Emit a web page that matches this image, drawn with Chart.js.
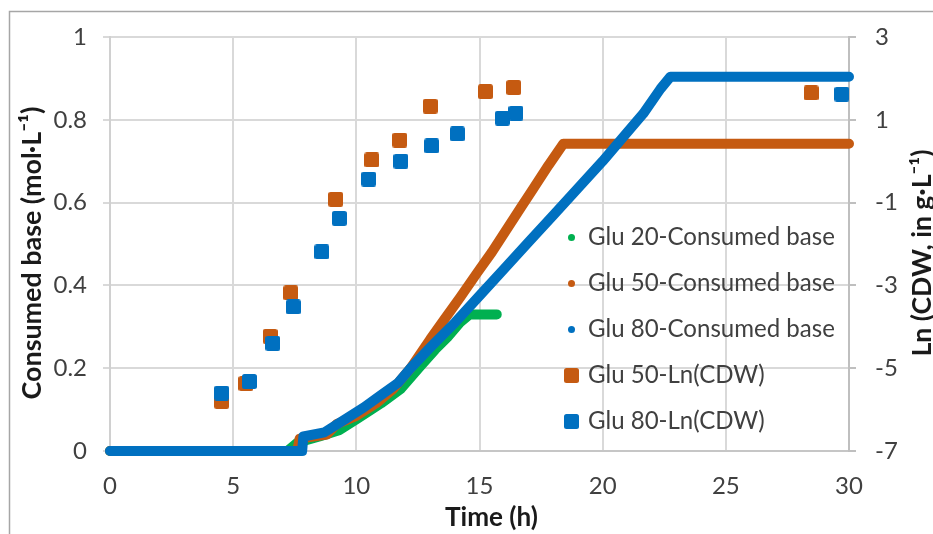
<!DOCTYPE html>
<html><head><meta charset="utf-8">
<script src="https://cdn.jsdelivr.net/npm/chart.js@4"></script>
<style>html,body{margin:0;padding:0;background:#fff;} canvas{display:block;}</style>
</head><body>
<canvas id="c" width="933" height="534"></canvas>
<script>
// ---- data ----
const xTickLabels = ['0','5','10','15','20','25','30'];
const leftTickLabels = ['0','0.2','0.4','0.6','0.8','1'];
const rightTickLabels = ['-7','-5','-3','-1','1','3'];
const seriesNames = ['Glu 20-Consumed base','Glu 50-Consumed base','Glu 80-Consumed base','Glu 50-Ln(CDW)','Glu 80-Ln(CDW)'];
const xTitle = 'Time (h)';
const leftTitle = 'Consumed base (mol·L⁻¹)';
const rightTitle = 'Ln (CDW, in g·L⁻¹)';

const glu20Time = [0, 7.2, 7.6, 8.5, 9.3, 10.1, 11.0, 11.8, 12.6, 13.2, 13.7, 14.2, 14.6, 15.7];
const glu20Base = [0, 0, 0.02, 0.035, 0.05, 0.08, 0.115, 0.15, 0.205, 0.245, 0.275, 0.31, 0.33, 0.33];

const glu50Time = [0, 7.6, 7.7, 8.8, 9.2, 10.0, 10.8, 11.5, 12.2, 13.0, 13.6, 14.2, 14.9, 15.5, 16.1, 16.7, 17.2, 17.8, 18.4, 30];
const glu50Base = [0, 0, 0.03, 0.04, 0.065, 0.085, 0.115, 0.15, 0.2, 0.27, 0.32, 0.37, 0.43, 0.48, 0.535, 0.59, 0.635, 0.69, 0.742, 0.742];

const glu80Time = [0, 7.8, 7.85, 8.7, 9.5, 10.3, 11.0, 11.7, 12.2, 13.0, 14.0, 15.0, 16.0, 17.0, 18.0, 19.0, 20.0, 21.0, 21.65, 22.35, 22.75, 30];
const glu80Base = [0, 0, 0.035, 0.045, 0.075, 0.105, 0.135, 0.165, 0.2, 0.25, 0.31, 0.375, 0.44, 0.505, 0.57, 0.635, 0.70, 0.77, 0.815, 0.875, 0.904, 0.904];

const glu50CdwTime = [4.53, 5.52, 6.50, 7.34, 9.16, 10.63, 11.76, 13.00, 15.24, 16.39, 28.46];
const glu50LnCdw   = [-5.80, -5.37, -4.23, -3.18, -0.92, 0.03, 0.51, 1.33, 1.68, 1.78, 1.65];

const glu80CdwTime = [4.53, 5.66, 6.61, 7.44, 8.60, 9.31, 10.50, 11.81, 13.06, 14.10, 15.93, 16.48, 29.71];
const glu80LnCdw   = [-5.60, -5.32, -4.40, -3.52, -2.19, -1.38, -0.43, 0.00, 0.37, 0.66, 1.04, 1.16, 1.62];

// ---- styling ----
const GREEN = '#00b050', ORANGE = '#c55a11', BLUE = '#0070c0';
const FONT = 'Lato';
const TEXT = '#404040', TITLE = '#1a1a1a';

const mctx = document.createElement('canvas').getContext('2d');
function fitSize(text, weight, target){
  mctx.font = weight + ' 100px ' + FONT;
  return 100 * target / mctx.measureText(text).width;
}
const legendSize = fitSize(seriesNames[0], 'normal', 247);
const leftTitleSize = fitSize(leftTitle, 'bold', 293);
const rightTitleSize = fitSize(rightTitle, 'bold', 207);
const xTitleSize = fitSize(xTitle, 'bold', 93);
const tickSize = 24;

const legendPad = 46 - legendSize;
const legendBoxW = Math.max(2, 33 - legendSize);
const legendLeft = 571.5 - legendPad - legendBoxW / 2;
const legendTop = 237.5 - legendPad - legendSize / 2;

function pts(ts, vs){ return ts.map((t,i)=>({x:t, y:vs[i]})); }
function makeSquare(color, s){
  const c = document.createElement('canvas'); c.width = s; c.height = s;
  const g = c.getContext('2d'); g.fillStyle = color; g.beginPath();
  if (g.roundRect) g.roundRect(0,0,s,s,2.5); else g.rect(0,0,s,s);
  g.fill(); return c;
}
function makeDot(color, d){
  const c = document.createElement('canvas'); c.width = d; c.height = d;
  const g = c.getContext('2d'); g.fillStyle = color; g.beginPath();
  g.arc(d/2, d/2, d/2, 0, Math.PI*2); g.fill(); return c;
}
const sqOrange = makeSquare(ORANGE, 15), sqBlue = makeSquare(BLUE, 15);
const legendIcons = [makeDot(GREEN,7), makeDot(ORANGE,7), makeDot(BLUE,7), makeSquare(ORANGE,15), makeSquare(BLUE,15)];

function lineDs(label, ts, vs, color, order){
  return { label, data: pts(ts, vs), yAxisID:'y', showLine:true, borderColor:color, backgroundColor:color,
    borderWidth:10, borderCapStyle:'round', borderJoinStyle:'round', pointRadius:0, pointHoverRadius:0,
    tension:0, clip:8, order };
}
function sqDs(label, ts, vs, color, img, order){
  return { label, data: pts(ts, vs), yAxisID:'y1', showLine:false, borderColor:color, backgroundColor:color,
    pointStyle: img, pointRadius:8, pointHoverRadius:8, clip:10, order };
}

function drawText(ctx, text, size, x, y, rot){
  ctx.save();
  ctx.translate(x, y); if (rot) ctx.rotate(rot);
  ctx.font = 'bold ' + size + 'px ' + FONT; ctx.fillStyle = TITLE;
  ctx.textAlign = 'center'; ctx.textBaseline = 'middle';
  ctx.fillText(text, 0, 0);
  ctx.restore();
}

const plugins = [{
  id:'frame',
  beforeDraw(chart){
    const ctx = chart.ctx; ctx.save(); ctx.fillStyle='#fff'; ctx.fillRect(0,0,chart.width,chart.height); ctx.restore();
  },
  afterLayout(chart){
    const l = chart.legend; if (!l) return;
    const w = l.width;
    l.left = legendLeft; l.top = legendTop; l.right = l.left + w; l.height = 300; l.bottom = l.top + 300;
  },
  afterDraw(chart){
    const ctx = chart.ctx; ctx.save();
    ctx.strokeStyle = '#a6a6a6'; ctx.lineWidth = 1.5;
    ctx.strokeRect(9.5, 11.5, 1000, 1000);
    ctx.restore();
    drawText(ctx, xTitle, xTitleSize, 491.5, 518, 0);
    drawText(ctx, leftTitle, leftTitleSize, 32.5, 253, -Math.PI/2);
    drawText(ctx, rightTitle, rightTitleSize, 922, 253, -Math.PI/2);
  }
}];

new Chart(document.getElementById('c'), {
  type: 'scatter',
  data: { datasets: [
    lineDs(seriesNames[0], glu20Time, glu20Base, GREEN, 5),
    lineDs(seriesNames[1], glu50Time, glu50Base, ORANGE, 4),
    lineDs(seriesNames[2], glu80Time, glu80Base, BLUE, 3),
    sqDs(seriesNames[3], glu50CdwTime, glu50LnCdw, ORANGE, sqOrange, 2),
    sqDs(seriesNames[4], glu80CdwTime, glu80LnCdw, BLUE, sqBlue, 1)
  ]},
  options: {
    responsive:false, animation:false, devicePixelRatio:1,
    layout:{ padding:{ top:37, left:0, right:0, bottom:0 } },
    scales: {
      x: { type:'linear', min:0, max:30,
        afterFit(s){ s.height = 83; },
        ticks:{ stepSize:5, padding:21, color:TEXT, font:{family:FONT, size:tickSize},
          callback:(v,i)=>xTickLabels[i] },
        grid:{ color:'#d9d9d9', lineWidth:2, drawTicks:false },
        border:{ color:'#c6c6c6', width:2 },
        title:{ display:false }
      },
      y: { position:'left', min:0, max:1,
        afterFit(s){ s.width = 110; },
        ticks:{ stepSize:0.2, padding:16, color:TEXT, font:{family:FONT, size:tickSize},
          callback:(v,i)=>leftTickLabels[i] },
        grid:{ color:'#d9d9d9', lineWidth:2, tickLength:7 },
        border:{ color:'#d0d0d0', width:2 },
        title:{ display:false }
      },
      y1: { position:'right', min:-7, max:3,
        afterFit(s){ s.width = 84; },
        ticks:{ stepSize:2, padding:19, color:TEXT, font:{family:FONT, size:tickSize},
          callback:(v,i)=>rightTickLabels[i] },
        grid:{ drawOnChartArea:false, color:'#bfbfbf', lineWidth:2, tickLength:7 },
        border:{ color:'#bfbfbf', width:2 },
        title:{ display:false }
      }
    },
    plugins: {
      tooltip:{ enabled:false },
      legend:{ position:'chartArea', align:'start',
        labels:{ usePointStyle:true, boxWidth:legendBoxW, boxHeight:legendBoxW, padding:legendPad, color:TEXT,
          font:{family:FONT, size:legendSize},
          sort:(a,b)=>a.datasetIndex-b.datasetIndex,
          generateLabels(chart){
            const items = Chart.defaults.plugins.legend.labels.generateLabels(chart);
            items.forEach(it=>{ it.pointStyle = legendIcons[it.datasetIndex]; it.lineWidth = 0; });
            return items;
          }
        }
      }
    }
  },
  plugins
});
</script>
</body></html>
